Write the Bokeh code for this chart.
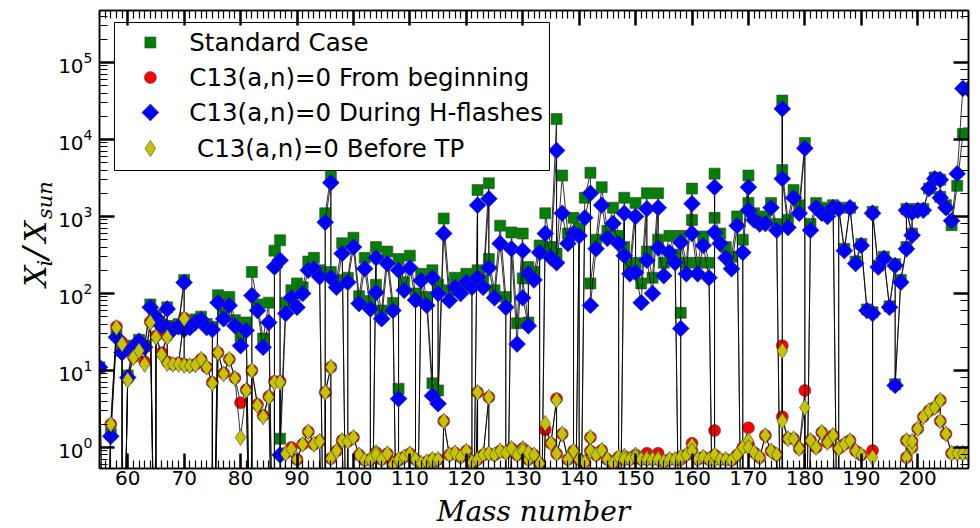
import math
from bokeh.plotting import figure
from bokeh.layouts import column, row
from bokeh.models import (Range1d, LinearAxis, LogAxis, SingleIntervalTicker, LogTicker)
from bokeh.embed import file_html
from bokeh.resources import INLINE
from bokeh.core.properties import value

OFF = 1e-3  # abundance far below the plotted range

mass = [55, 56, 57, 58, 59, 59, 60, 61, 62, 63, 64, 65, 65, 66, 67, 67, 68, 69, 70, 70,
        71, 72, 73, 74, 75, 75, 76, 77, 78, 79, 80, 81, 82, 82, 83, 84, 85, 86, 86, 87, 87,
        88, 89, 90, 91, 92, 93, 94, 95, 95, 96, 96, 97, 98, 99, 99, 100, 101, 102, 103, 103, 104, 104, 105, 106, 107,
        108, 108, 108, 109, 110, 111, 111, 112, 113, 114, 114, 115, 115, 116, 117, 118, 119, 120, 121, 121, 122, 122, 123, 124, 124, 125, 126, 127, 127, 128, 129, 130, 130,
        131, 131, 132, 133, 133, 134, 135, 136, 136, 137, 138, 139, 139, 140, 140, 141, 142, 142, 143, 144, 145, 146, 147, 147, 148, 148, 149, 150, 150, 151, 152, 152, 153, 154, 154, 155, 156, 157, 158, 158, 158,
        159, 160, 160, 161, 162, 163, 164, 164, 164, 165, 166, 167, 168, 169, 169, 170, 170, 171, 172, 173, 174, 175, 176, 176, 176, 177, 178, 179, 180, 180, 181, 182, 183, 184, 185, 186, 186, 187, 188, 189, 190,
        191, 192, 192, 192, 193, 194, 195, 196, 196, 197, 198, 198, 199, 199, 200, 201, 202, 203, 204, 204, 205, 206, 207, 208, 209]

standard = [11, OFF, 1.5, 29, 18, OFF, 8.6, 21, 25, 21, 72, OFF, 52, 40, 66, 38, 36, 40, 150, 36,
            38, 46, 50, 40, 37, OFF, 95, 55, 90, 45, 28, 42, OFF, 190, 72, 26, 76, OFF, 360, 490, 1.3,
            76, 110, 135, 120, 260, 290, 200, OFF, 1100, 3400, 190, 150, 450, OFF, 160, 530, 92, 290, 80, OFF, 400, 130, 60, 350, 75,
            OFF, 5.8, 280, 140, 310, 100, OFF, 180, 90, 6.8, 200, 130, 5.5, 940, 110, 160, 130, 180, 150, OFF, 2200, 200, 150, 2700, 280, 110, 760, 90, OFF, 620, 41, 600, 157,
            42, 220, 190, 420, OFF, 1100, 400, 18400, 330, 3400, 600, 960, OFF, 700, OFF, 1750, 3700, 135, 500, 2400, 650, 1300, 560, OFF, 1750, 400, 230, 1500, 250, 135, 2000, 350, 160, 2000, 500, 250, 560, 320, OFF, 56, 560,
            250, 2300, 900, 250, 550, 250, OFF, 3600, 960, 600, 400, 300, 1000, OFF, 500, 3400, 1500, 1100, 900, 1000, 1500, 800, OFF, 32000, 4000, 900, 2200, 1400, 9000, OFF, 800, 1500, 1300, 1200, 1400, OFF, 1300, 380, 1300, 260, 440,
            62, 57, OFF, 1150, 230, 300, 68, 240, 6.6, 150, 400, 1250, 600, 1150, 1250, 1250, 2300, 3200, 3000, 1800, 1400, 770, 2500, 11800, 12000]

h_flash = [11, OFF, 1.4, 27, 17, OFF, 8.1, 20, 24, 20, 66, OFF, 49, 38, 63, 36, 34, 37, 139, 34,
           36, 42, 46, 36, 34, OFF, 76, 47, 70, 38, 21, 33, OFF, 94, 60, 20, 42, OFF, 220, 270, 0.8,
           55, 88, 66, 100, 200, 210, 165, OFF, 840, 2750, 160, 120, 330, OFF, 140, 400, 74, 210, 63, OFF, 290, 103, 47, 245, 60,
           OFF, 4.3, 200, 110, 215, 82, OFF, 147, 70, 4.7, 160, 100, 3.7, 600, 81, 120, 100, 140, 120, OFF, 1400, 160, 120, 1700, 215, 88, 445, 66, OFF, 380, 22, 360, 88,
           38, 180, 150, 340, OFF, 600, 290, 7200, 250, 1100, 445, 600, OFF, 560, OFF, 960, 2000, 70, 380, 1400, 520, 810, 445, OFF, 1100, 310, 180, 1000, 187, 76, 1260, 270, 100, 1300, 390, 170, 340, 250, OFF, 35, 460,
           180, 1460, 600, 180, 420, 160, OFF, 2400, 620, 445, 290, 210, 760, OFF, 340, 2400, 1200, 900, 800, 810, 1300, 660, OFF, 25000, 3100, 720, 1750, 1100, 7700, OFF, 660, 1300, 1100, 1000, 1300, OFF, 1250, 360, 1300, 245, 420,
           60, 55, OFF, 1100, 220, 285, 66, 230, 6.4, 140, 380, 1200, 570, 1130, 1200, 1200, 2300, 3100, 3000, 1750, 1300, 880, 3600, 46000, 45000]

from_begin = [OFF, OFF, 2.0, 37, 23, OFF, 7.8, 15, 19, 13, 43, OFF, 28, 17, 28, 13, 12, 12.5, 48, 12,
              11.5, 12, 14, 11, 7, OFF, 17, 9.2, 14, 8, 3.8, 5.6, OFF, 10, 3.6, 2.6, 4.6, OFF, 7.2, 7.2, OFF,
              0.85, 1.0, 0.7, 1.1, 1.6, 1.1, 1.2, OFF, 5.2, 11, 0.72, 0.9, 1.23, OFF, 1.2, 1.35, 0.8, 0.68, 0.7, OFF, 0.86, 0.8, 0.7, 0.83, 0.6,
              OFF, 0.68, 0.7, 0.75, 0.83, 0.7, OFF, 0.62, 0.65, 0.64, 0.7, 0.7, OFF, 2.2, 0.8, 0.85, 0.75, 0.9, 0.64, OFF, 5.2, 0.7, 0.8, 4.5, 0.83, 0.8, 0.9, 0.85, OFF, 0.97, 0.8, 0.97, 0.9,
              0.7, 0.85, 0.8, 0.62, OFF, 1.7, 1.13, 4.3, 0.83, 1.5, 0.7, 0.9, OFF, 0.7, OFF, 0.64, 1.35, 0.9, 0.8, 0.92, 0.7, 0.62, 0.75, OFF, 0.77, 0.7, 0.7, 0.8, 0.75, 0.7, 0.84, 0.7, 0.7, 0.84, 0.7, 0.65, 0.7, 0.7, OFF, 0.7, 0.75,
              0.8, 1.13, 0.9, 0.7, 0.75, 0.7, OFF, 1.66, 0.8, 0.7, 0.7, 0.68, 0.8, OFF, 1.0, 1.8, 1.1, 0.86, 0.74, 1.43, 0.9, 0.8, OFF, 21, 2.5, 1.3, 1.3, 0.97, 5.5, OFF, 1.23, 1.0, 1.57, 1.16, 1.43, OFF, 0.97, 1.1, 1.23, 0.9, 0.8,
              OFF, OFF, OFF, 0.91, OFF, OFF, OFF, OFF, OFF, OFF, 1.23, 0.74, 1.0, 1.2, 1.75, 2.5, 3.0, 3.3, 4.1, 2.2, 1.5, 0.84, 0.84, 0.84, 0.84]

before_tp = [OFF, OFF, 2.0, 36, 22, OFF, 7.5, 14.7, 18, 12, 42, OFF, 27, 16, 27, 12.3, 12, 12, 47, 11.6,
             11.5, 11.8, 14, 11, 6.8, OFF, 17, 9, 14, 7.9, 1.35, 5.5, OFF, 10, 3.5, 2.5, 4.5, OFF, 7, 7, OFF,
             0.83, 0.95, 0.7, 1.1, 1.6, 1.1, 1.2, OFF, 5.2, 11, 0.72, 0.9, 1.23, OFF, 1.2, 1.35, 0.8, 0.68, 0.7, OFF, 0.86, 0.8, 0.7, 0.83, 0.6,
             OFF, 0.68, 0.7, 0.75, 0.83, 0.7, OFF, 0.62, 0.65, 0.64, 0.7, 0.7, OFF, 2.2, 0.8, 0.85, 0.75, 0.9, 0.64, OFF, 5.2, 0.7, 0.8, 4.5, 0.83, 0.8, 0.9, 0.85, OFF, 0.97, 0.8, 0.97, 0.9,
             0.7, 0.85, 0.8, 0.62, OFF, 2.05, 1.13, 4.1, 0.83, 1.5, 0.7, 0.9, OFF, 0.7, OFF, 0.64, 1.35, 0.9, 0.8, 0.92, 0.7, 0.62, 0.75, OFF, 0.77, 0.7, 0.7, 0.8, 0.75, 0.7, 0.73, 0.7, 0.7, 0.73, 0.7, 0.65, 0.7, 0.7, OFF, 0.7, 0.75,
             0.8, 1.06, 0.9, 0.7, 0.75, 0.7, OFF, 0.68, 0.8, 0.7, 0.7, 0.68, 0.8, OFF, 1.0, 1.23, 1.0, 0.86, 0.74, 1.43, 0.9, 0.8, OFF, 18, 2.2, 1.3, 1.3, 0.97, 3.3, OFF, 1.23, 1.0, 1.57, 1.16, 1.43, OFF, 0.97, 1.1, 1.23, 0.9, 0.8,
             OFF, OFF, OFF, 0.74, OFF, OFF, OFF, OFF, OFF, OFF, 1.23, 0.74, 1.0, 1.2, 1.75, 2.5, 3.0, 3.3, 4.1, 2.2, 1.5, 0.84, 0.84, 0.84, 0.84]

labels = ["Standard Case", "C13(a,n)=0 From beginning",
          "C13(a,n)=0 During H-flashes", "\u00a0C13(a,n)=0 Before TP"]

# ---------------- layout constants (page pixels) ----------------
W, H = 980, 528
YLAB_W = 55          # strip holding the y title
XLAB_H = 34          # strip holding the x title
FL, FR, FT, FB = 97, 968, 10, 468   # frame edges on the page
X0, X1 = 55, 209
Y0, Y1 = 0.533, 4.73e5


def px_x(px):
    return X0 + (px - FL) / (FR - FL) * (X1 - X0)


def px_y(py):
    lo, hi = math.log10(Y0), math.log10(Y1)
    return 10 ** (hi - (py - FT) / (FB - FT) * (hi - lo))


def bare_figure(w, h):
    f = figure(width=w, height=h, x_range=Range1d(0, w), y_range=Range1d(0, h),
               output_backend="svg", toolbar_location=None, min_border=0,
               x_axis_location=None, y_axis_location=None)
    f.min_border_left = f.min_border_right = f.min_border_top = f.min_border_bottom = 0
    f.xgrid.visible = False
    f.ygrid.visible = False
    f.outline_line_color = None
    f.background_fill_color = "white"
    f.border_fill_color = "white"
    return f


main_w, main_h = W - YLAB_W, H - XLAB_H
p = figure(width=main_w, height=main_h, x_range=Range1d(X0, X1), y_range=Range1d(Y0, Y1),
           y_axis_type="log", output_backend="svg", toolbar_location=None)
p.min_border_left = FL - YLAB_W
p.min_border_right = W - FR
p.min_border_top = FT
p.min_border_bottom = main_h - FB
p.xgrid.visible = False
p.ygrid.visible = False
p.outline_line_color = "black"
p.outline_line_width = 1.5
p.background_fill_color = "white"
p.border_fill_color = "white"

TICK_FONT = "DejaVu Sans"
TICK_SIZE = "20px"


def style_axis(ax, show_labels):
    ax.axis_line_color = "black"
    ax.axis_line_width = 1.5
    ax.major_tick_in = 15
    ax.major_tick_out = 0
    ax.minor_tick_in = 8
    ax.minor_tick_out = 0
    ax.major_tick_line_width = 2.5
    ax.minor_tick_line_width = 1.2
    ax.major_tick_line_color = "black"
    ax.minor_tick_line_color = "black"
    if show_labels:
        ax.major_label_text_font = TICK_FONT
        ax.major_label_text_font_size = TICK_SIZE
        ax.major_label_text_color = "black"
    else:
        ax.major_label_text_font_size = "0px"
        ax.major_label_text_color = None
        ax.major_label_standoff = 0


p.xaxis.ticker = SingleIntervalTicker(interval=10, num_minor_ticks=10)
style_axis(p.xaxis[0], True)
p.xaxis.major_label_standoff = 2
style_axis(p.yaxis[0], True)
p.yaxis.major_label_standoff = 7

top = LinearAxis(ticker=SingleIntervalTicker(interval=10, num_minor_ticks=10))
style_axis(top, False)
p.add_layout(top, "above")
right = LogAxis(ticker=LogTicker())
style_axis(right, False)
p.add_layout(right, "right")

# (values, marker, colour, size, angle)
series = [
    (standard, "square", "#008000", 11, 0.0),
    (from_begin, "circle", "#ff0000", 12, 0.0),
    (h_flash, "square", "#0000ff", 12, math.pi / 4),
    (before_tp, "diamond", "#c4c400", 16, 0.0),
]
for ys, marker, color, size, angle in series:
    p.line(mass, ys, line_color="black", line_width=0.8)
    p.scatter(mass, ys, marker=marker, size=size, angle=angle,
              fill_color=color, line_color="#404040", line_width=0.6)

# ---------------- legend (drawn by hand so the markers match) ----------------
LEG_L, LEG_R, LEG_T, LEG_B = 112, 548, 22, 170
LEG_MARK_X, LEG_TEXT_X = 148, 187
LEG_ROWS = [42, 77, 112, 148]
p.quad(left=[px_x(LEG_L)], right=[px_x(LEG_R)], top=[px_y(LEG_T)], bottom=[px_y(LEG_B)],
       fill_color="white", line_color="black", line_width=1, level="guide")
for (ys, marker, color, size, angle), lab, ry in zip(series, labels, LEG_ROWS):
    p.scatter([px_x(LEG_MARK_X)], [px_y(ry)], marker=marker, size=size, angle=angle,
              fill_color=color, line_color="#404040", line_width=0.6, level="annotation")
    p.text([px_x(LEG_TEXT_X)], [px_y(ry)], text=[lab], text_font=value("DejaVu Sans"),
           text_font_size=value("24.5px"), text_baseline="middle", text_align="left",
           text_color="black", level="annotation")

# ---------------- y title strip:  X_i / X_sun ----------------
ylab = bare_figure(YLAB_W, main_h)
# (text, centre-line x, start y on page, font size)
ypieces = [
    ("X", 35, 298, "30px"),
    ("i", 44, 276, "21px"),
    ("/", 34, 268, "34px"),
    ("X", 35, 250, "30px"),
    ("sun", 44, 225, "21px"),
]
for txt, cx, sy, fs in ypieces:
    ylab.text([cx], [main_h - sy], text=[txt], angle=math.pi / 2, text_align="left",
              text_baseline="middle", text_font=value("DejaVu Serif"),
              text_font_style="italic", text_font_size=value(fs), text_color="black")

# ---------------- x title strip ----------------
xlab = bare_figure(W, XLAB_H)
xlab.text([533], [H - 511], text=["Mass number"], text_align="center", text_baseline="middle",
          text_font=value("DejaVu Serif"), text_font_style="italic",
          text_font_size=value("28px"), text_color="black")

layout = column(row(ylab, p, spacing=0), xlab, spacing=0)
open("out.html", "w").write(file_html(layout, INLINE))
